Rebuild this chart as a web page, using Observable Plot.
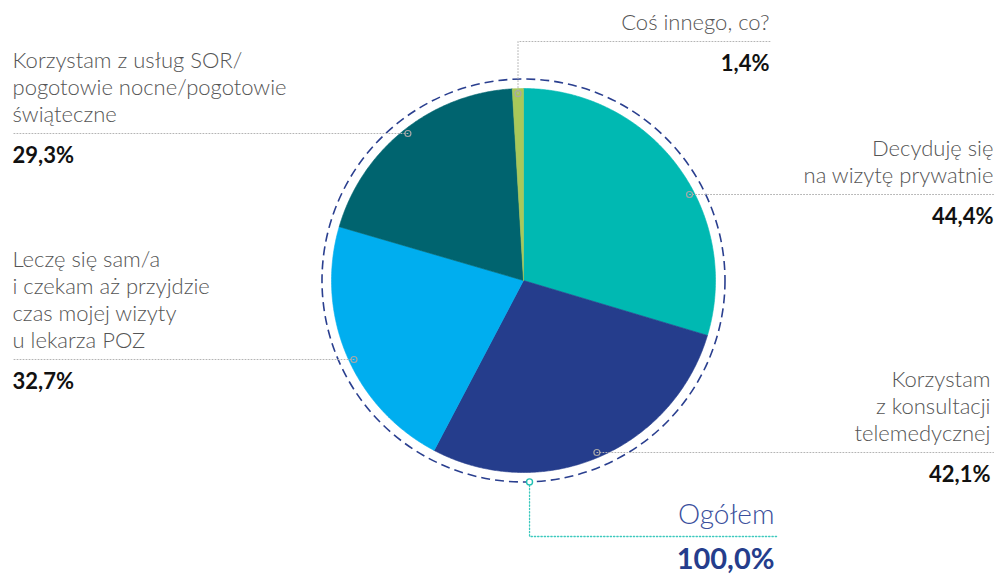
<!DOCTYPE html>
<html><head><meta charset="utf-8">
<script src="https://cdn.jsdelivr.net/npm/d3@7"></script>
<script src="https://cdn.jsdelivr.net/npm/@observablehq/plot@0.6"></script>
<style>
html,body{margin:0;padding:0;background:#fff;}
#chart svg{display:block;}
</style>
</head><body><div id="chart"></div>
<script>
// ---- data ----
const categories = [
  "Decyduję się\nna wizytę prywatnie",
  "Korzystam\nz konsultacji\ntelemedycznej",
  "Leczę się sam/a\ni czekam aż przyjdzie\nczas mojej wizyty\nu lekarza POZ",
  "Korzystam z usług SOR/\npogotowie nocne/pogotowie\nświąteczne",
  "Coś innego, co?"
];
const values = [44.4, 42.1, 32.7, 29.3, 1.4];
const totalLabel = "Ogółem";
const totalValue = 100.0;

// ---- styles / layout ----
const colors = ["#00b9b2", "#253d8c", "#00aeef", "#00646f", "#a8c85a"];
const W = 998, H = 575, CX = 523, CY = 280, R = 192, RD = 201.5, RA = 187;
const FONT = "Lato, 'Open Sans', sans-serif";
// per label: side, text x (offset), leader line y (offset)
const layout = [
  {side: "right", tx: 470, ly: -86},
  {side: "right", tx: 467, ly: 172},
  {side: "left",  tx: -511, ly: 79},
  {side: "left",  tx: -511, ly: -147},
  {side: "top",   tx: 246, ly: -239}
];
const fmt = v => v.toFixed(1).replace(".", ",") + "%";

// ---- pie geometry from values ----
const arcs = d3.pie().sort(null).value(d => d)(values);
const slicePts = arcs.map((a, i) => {
  const pts = [{x: 0, y: 0}];
  const n = Math.max(2, Math.ceil((a.endAngle - a.startAngle) / 0.008));
  for (let k = 0; k <= n; k++) {
    const t = a.startAngle + (a.endAngle - a.startAngle) * k / n;
    pts.push({x: R * Math.sin(t), y: -R * Math.cos(t)});
  }
  pts.push({x: 0, y: 0});
  return pts;
});

// leader lines and anchors
const leaders = [];
const anchors = [];
arcs.forEach((a, i) => {
  const L = layout[i];
  let ax, ay;
  if (L.side === "top") {
    const t = (a.startAngle + a.endAngle) / 2;
    ax = RA * Math.sin(t); ay = -RA * Math.cos(t);
    leaders.push({k: i, pts: [{x: ax, y: ay}, {x: ax, y: L.ly}, {x: L.tx + 1, y: L.ly}]});
  } else {
    ay = L.ly;
    const dx = Math.sqrt(RA * RA - ay * ay);
    ax = L.side === "right" ? dx : -dx;
    leaders.push({k: i, pts: [{x: ax, y: ay}, {x: L.side === "right" ? 470 : -511, y: ay}]});
  }
  anchors.push({x: ax, y: ay});
});
const leaderRows = leaders.flatMap(l => l.pts.map(p => ({...p, k: l.k})));

// total annotation
const tAnchor = {x: RD * Math.sin(Math.PI - 0.03), y: -RD * Math.cos(Math.PI - 0.03)};
const totalRows = [tAnchor, {x: tAnchor.x, y: 256}, {x: 254, y: 256}];

const labelRows = categories.map((c, i) => {
  const L = layout[i];
  return {text: c, pct: fmt(values[i]), x: L.tx, y: L.ly - 11.5, py: L.ly + 29.5, side: L.side};
});
const leftRows = labelRows.filter(d => d.side === "left");
const rightRows = labelRows.filter(d => d.side !== "left");

const labelStyle = {x: "x", y: "y", text: "text", lineAnchor: "bottom", lineHeight: 1.225, fontSize: 22, fontWeight: 300, fill: "#555"};
const pctStyle = {x: "x", y: "py", text: "pct", lineAnchor: "bottom", fontSize: 22, fontWeight: 700, fill: "#111"};

const chart = Plot.plot({
  width: W, height: H,
  margin: 0,
  x: {domain: [-CX, W - CX], range: [0, W], axis: null},
  y: {domain: [-CY, H - CY], range: [0, H], axis: null},
  style: {fontFamily: FONT, background: "#fff"},
  marks: [
    ...slicePts.map((pts, i) => Plot.line(pts, {x: "x", y: "y", fill: colors[i], stroke: colors[i], strokeWidth: 0.6, curve: "linear"})),
    Plot.dot([{x: 0, y: 0}], {x: "x", y: "y", r: RD, fill: "none", stroke: "#2a3f8f", strokeWidth: 1.6, strokeDasharray: "9,5"}),
    Plot.line(leaderRows, {x: "x", y: "y", z: "k", stroke: "#b4b4b4", strokeWidth: 1, strokeDasharray: "1,2"}),
    Plot.line(totalRows, {x: "x", y: "y", stroke: "#3cc9bd", strokeWidth: 1.3, strokeDasharray: "1.3,2"}),
    Plot.dot(anchors, {x: "x", y: "y", r: 3, fill: "none", stroke: "#a8a8a8", strokeWidth: 1.2}),
    Plot.dot([tAnchor], {x: "x", y: "y", r: 3, fill: "#fff", stroke: "#22c0b4", strokeWidth: 1.4}),
    Plot.text(leftRows, {...labelStyle, textAnchor: "start"}),
    Plot.text(rightRows, {...labelStyle, textAnchor: "end"}),
    Plot.text(leftRows, {...pctStyle, textAnchor: "start"}),
    Plot.text(rightRows, {...pctStyle, textAnchor: "end"}),
    Plot.text([totalLabel], {x: 251, y: 243, text: d => d, textAnchor: "end", lineAnchor: "bottom",
      fontSize: 28, fontWeight: 300, fill: "#3a4f9c"}),
    Plot.text([fmt(totalValue)], {x: 251, y: 288, text: d => d, textAnchor: "end", lineAnchor: "bottom",
      fontSize: 29, fontWeight: 700, fill: "#253d8c"})
  ]
});
document.getElementById("chart").appendChild(chart);
</script>
</body></html>
